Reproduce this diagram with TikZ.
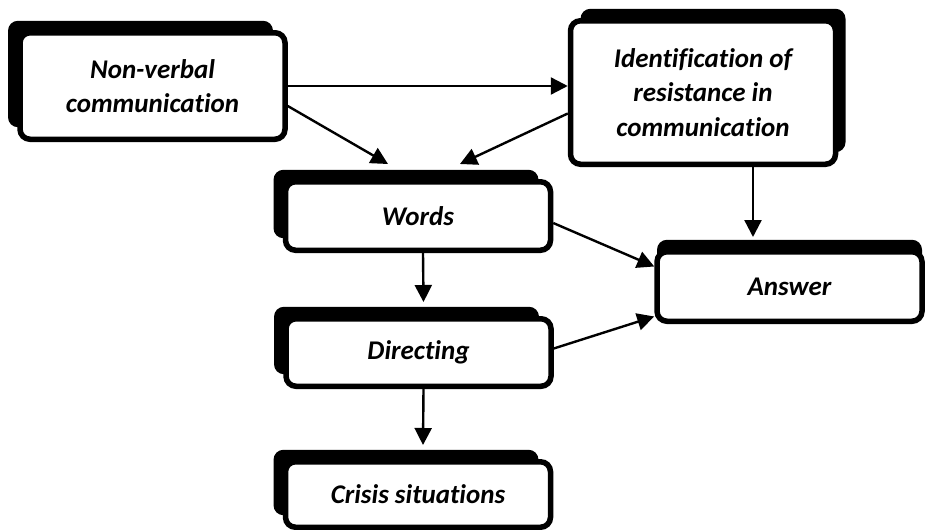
\documentclass[tikz,border=0pt]{standalone}
\usepackage{fontspec}
\setmainfont[Ligatures=NoCommon]{Carlito}
\usepackage{tikz}
\usetikzlibrary{shadows,arrows.meta,calc}

\tikzset{
  block/.style={draw=black, fill=white, line width=5.5pt, rounded corners=10pt,
    minimum width=265pt, align=center, inner sep=2pt,
    font=\bfseries\itshape\fontsize{27}{34.5}\selectfont},
  shadowleft/.style={general shadow={fill=black, shadow xshift=-12pt, shadow yshift=12pt}},
  shadowright/.style={general shadow={fill=black, shadow xshift=10pt, shadow yshift=12pt}},
  shadowup/.style={general shadow={fill=black, shadow xshift=0pt, shadow yshift=12pt}},
  arr/.style={line width=2.4pt, -{Triangle[length=17pt,width=17pt]}}
}

\begin{document}
\begin{tikzpicture}[x=1pt,y=-1pt]
     \useasboundingbox (0,0) rectangle (927,530);
     % boxes
     \node [block, shadowleft, minimum height=106.5pt] (nonverbal) at (152.5,86) {Non-verbal\\communication};
     \node [block, shadowright, minimum height=143.5pt] (ident) at (703,92.5) {Identification of\\resistance in\\communication};
     \node [block, shadowleft, minimum height=68.5pt] (words) at (418,216) {Words};
     \node [block, shadowleft, minimum height=67.5pt] (directing) at (418.5,352.5) {Directing};
     \node [block, shadowleft, minimum height=65.5pt] (crisis) at (418,494.5) {Crisis situations};
     \node [block, shadowup, minimum height=69.5pt] (answer) at (789.5,286.5) {Answer};
     % arrows
     \draw [arr] (nonverbal.east) -- (nonverbal.east -| ident.west);
     \draw [arr] ([yshift=-20pt]nonverbal.east) -- ([xshift=-30pt,yshift=15pt]words.north);
     \draw [arr] ([yshift=-21pt]ident.west) -- ([xshift=42pt,yshift=15pt]words.north);
     \draw [arr] ([xshift=50pt]ident.south) -- ($(ident.south |- answer.north)+(50,-12)$);
     \draw [arr] ([yshift=-7pt]words.east) -- ([yshift=20pt]answer.west);
     \draw [arr] ([xshift=5pt]words.south) -- ([xshift=5pt,yshift=14pt]directing.north);
     \draw [arr] ([yshift=4pt]directing.east) -- ([yshift=-30pt]answer.west);
     \draw [arr] ([xshift=5pt]directing.south) -- ([xshift=5pt,yshift=14pt]crisis.north);
\end{tikzpicture}
\end{document}
